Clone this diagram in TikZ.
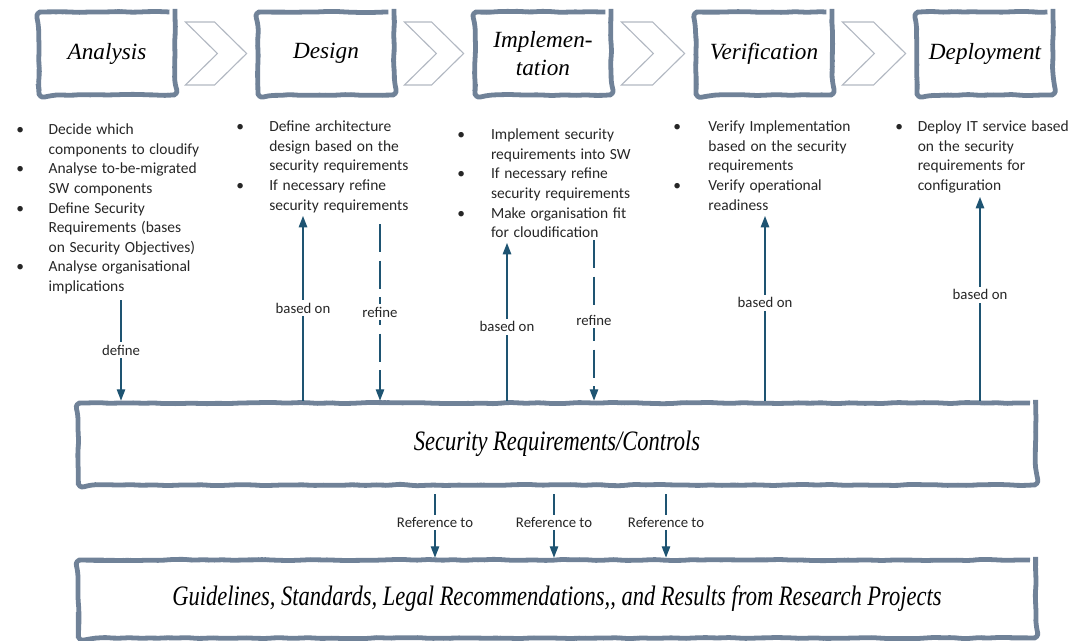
\documentclass[tikz,border=0pt]{standalone}
\usepackage{fontspec}
\setmainfont{Liberation Serif}
\newfontfamily\listfont{Carlito}
\newfontfamily\narrowserif[FakeStretch=0.8]{Liberation Serif}
\usetikzlibrary{positioning,calc,arrows.meta,decorations.pathmorphing}

\definecolor{framegray}{RGB}{112,130,152}
\definecolor{chevgray}{RGB}{178,184,194}
\definecolor{linkblue}{RGB}{30,84,114}

% bullet list used below the phase boxes
\newenvironment{tasklist}[1][23pt]{%
  \listfont\fontsize{11}{13.9}\selectfont
  \begin{list}{\textbullet}{\setlength\leftmargin{#1}\setlength\labelwidth{#1}%
    \setlength\labelsep{0pt}\setlength\itemsep{0pt}\setlength\topsep{0pt}%
    \setlength\parsep{0pt}\setlength\partopsep{0pt}%
    \def\makelabel##1{##1\hfil}}}
  {\end{list}}

\begin{document}
\begin{tikzpicture}[x=0.025cm,y=-0.025cm,
    frame/.style={draw=framegray,line width=3.4pt,fill=white,rounded corners=4pt,
      decorate,decoration={random steps,segment length=6pt,amplitude=0.5pt}},
    phase/.style={frame,minimum width=3.4cm,minimum height=2.075cm,
      font=\itshape\fontsize{16.5}{20}\selectfont,align=center},
    wide/.style={frame,minimum width=23.925cm,
      font=\narrowserif\itshape\fontsize{20}{24}\selectfont},
    tasks/.style={anchor=north west,inner sep=0pt,text width=175pt,align=left,text=black!85},
    chevron/.style={draw=chevgray,line width=0.8pt},
    flow/.style={draw=linkblue,line width=0.9pt,-{Triangle[length=8pt,width=6pt]}},
    refined/.style={flow,dash pattern=on 20pt off 6pt},
    tag/.style={fill=white,inner sep=2pt,text=black!85,
      font=\listfont\fontsize{10.5}{12}\selectfont}]
  \useasboundingbox (0,0) rectangle (1080,640);

  % phases
  \node[phase] (ana) at (107,53.5) {Analysis};
  \node[phase] (des) at (326,53.5) {Design};
  \node[phase] (imp) at (543,53.5) {Implemen-\\tation};
  \node[phase] (ver) at (764,53.5) {Verification};
  \node[phase] (dep) at (985,53.5) {Deployment};

  \foreach \a/\b in {ana/des,des/imp,imp/ver,ver/dep}
    \draw[chevron] ($(\a.east)+(8,-31.5)$) -- ($(\b.west)+(-41,-31.5)$)
      -- ($(\b.west)+(-9,0)$) -- ($(\b.west)+(-41,31.5)$)
      -- ($(\a.east)+(8,31.5)$) -- ($(\a.east)+(40,0)$) -- cycle;

  % activities
  \node[tasks] (anatxt) at (16,115) {\begin{tasklist}[23pt]
    \item Decide which\newline components to cloudify
    \item Analyse to-be-migrated\newline SW components
    \item Define Security\newline Requirements (bases\newline on Security Objectives)
    \item Analyse organisational\newline implications
  \end{tasklist}};
  \node[tasks] (destxt) at (236,112) {\begin{tasklist}[23.5pt]
    \item Define architecture\newline design based on the\newline security requirements
    \item If necessary refine\newline security requirements
  \end{tasklist}};
  \node[tasks] (imptxt) at (457,120) {\begin{tasklist}[24pt]
    \item Implement security\newline requirements into SW
    \item If necessary refine\newline security requirements
    \item Make organisation fit\newline for cloudification
  \end{tasklist}};
  \node[tasks] (vertxt) at (673,112) {\begin{tasklist}[25pt]
    \item Verify Implementation\newline based on the security\newline requirements
    \item Verify operational\newline readiness
  \end{tasklist}};
  \node[tasks] (deptxt) at (895,112) {\begin{tasklist}[16pt]
    \item Deploy IT service based\newline on the security\newline requirements for\newline configuration
  \end{tasklist}};

  % central boxes
  \node[wide,minimum height=2.05cm] (sec) at (557,444) {Security Requirements/Controls};
  \node[wide,minimum height=1.95cm] (gui) at (557,599)
    {Guidelines, Standards, Legal Recommendations,, and Results from Research Projects};

  % links between phases and requirements
  \coordinate (anadown) at (121,300);
  \coordinate (desup) at (303,216);
  \coordinate (desref) at (380,224);
  \coordinate (impup) at (507,243);
  \coordinate (impref) at (594,240);
  \coordinate (verup) at (765,216);
  \coordinate (depup) at (980,197);

  \draw[flow] (anadown) -- node[tag] {define} (anadown |- sec.north);
  \draw[flow] (desup |- sec.north) -- node[tag] {based on} (desup);
  \draw[refined] (desref) -- node[tag] {refine} (desref |- sec.north);
  \draw[flow] (impup |- sec.north) -- node[tag,pos=0.47] {based on} (impup);
  \draw[refined] (impref) -- node[tag] {refine} (impref |- sec.north);
  \draw[flow] (verup |- sec.north) -- node[tag,pos=0.53] {based on} (verup);
  \draw[flow] (depup |- sec.north) -- node[tag,pos=0.52] {based on} (depup);

  \foreach \x [count=\i] in {435,554,666} {
    \coordinate (refx\i) at (\x,0);
    \draw[flow,shorten <=5pt] (sec.south -| refx\i) -- node[tag] {Reference to} (gui.north -| refx\i);
  }
\end{tikzpicture}
\end{document}
